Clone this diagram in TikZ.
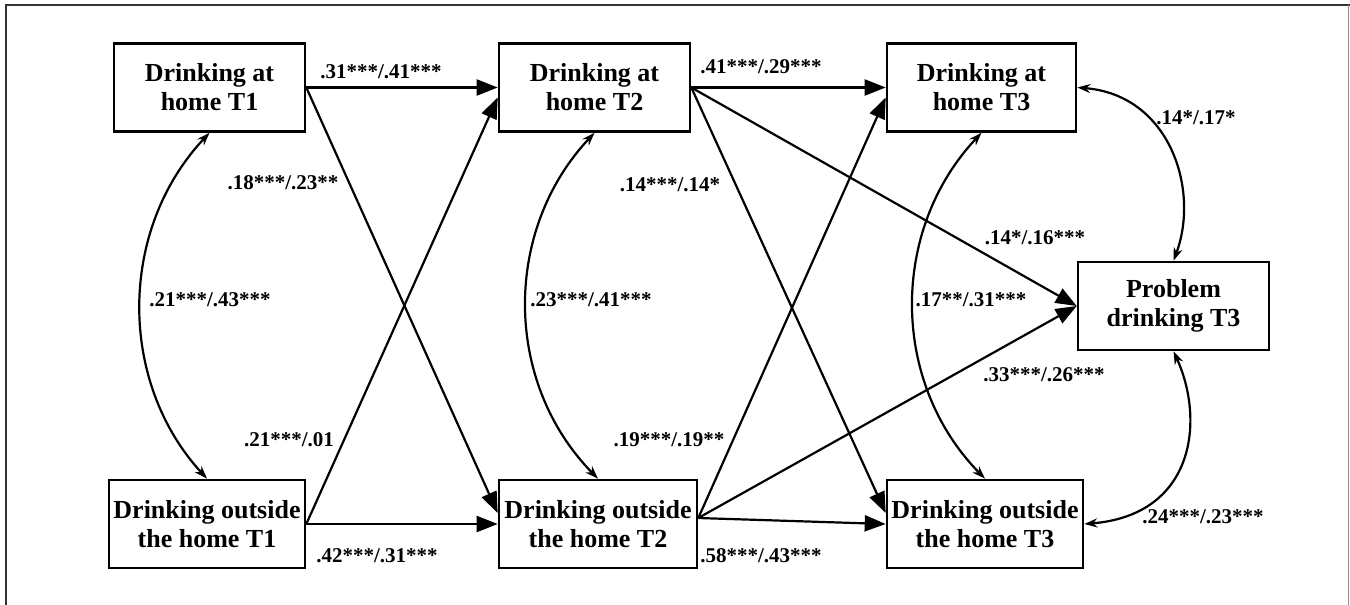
\documentclass[tikz,border=0pt]{standalone}
\usepackage{fontspec}
\setmainfont{Liberation Serif}
\usetikzlibrary{arrows.meta}
\begin{document}
\begin{tikzpicture}[x=1pt,y=-1pt,
  box/.style={draw, line width=2.6pt, minimum height=88pt, inner sep=1pt, align=center, font=\bfseries\fontsize{26}{29}\selectfont},
  lab/.style={font=\bfseries\fontsize{21}{24}\selectfont, inner sep=0pt},
  pth/.style={line width=2.2pt, -{Triangle[length=21pt,width=16pt]}},
  cov/.style={line width=2.2pt, {Stealth[length=13pt,width=9pt]}-{Stealth[length=13pt,width=9pt]}}]
\useasboundingbox (0,0) rectangle (1350,605);
\draw[line width=2pt, black!80] (6,606) -- (6,5) -- (1350,5);
\draw[line width=1pt, black!45] (1348.5,5) -- (1348.5,606);

\node[box, minimum width=191pt] (H1) at (209.5,87.5) {Drinking at\\home T1};
\node[box, minimum width=191pt] (H2) at (594.5,87.5) {Drinking at\\home T2};
\node[box, minimum width=189pt] (H3) at (981.5,87.5) {Drinking at\\home T3};
\node[box, minimum width=196pt] (O1) at (207,524) {Drinking outside\\the home T1};
\node[box, minimum width=198pt] (O2) at (598,524) {Drinking outside\\the home T2};
\node[box, minimum width=196pt] (O3) at (985,524) {Drinking outside\\the home T3};
\node[box, minimum width=191pt] (PD) at (1173.5,306) {Problem\\drinking T3};

% paths T1 -> T2
\draw[pth] (H1.east) -- (H2.west);
\draw[pth] (H1.east) -- ([yshift=11pt]O2.west);
\draw[pth] (O1.east) -- ([yshift=-10pt]H2.west);
\draw[pth] (O1.east) -- (O2.west);
% paths T2 -> T3
\draw[pth] (H2.east) -- (H3.west);
\draw[pth] (H2.east) -- ([yshift=11pt]O3.west);
\draw[pth] (H2.east) -- (PD.west);
\draw[pth] ([yshift=6pt]O2.east) -- ([yshift=-10pt]H3.west);
\draw[pth] ([yshift=6pt]O2.east) -- (O3.west);
\draw[pth] ([yshift=6pt]O2.east) -- (PD.west);

% covariances
\draw[cov] (H1.south) .. controls (118,230) and (118,382) .. (O1.north);
\draw[cov] (H2.south) .. controls (503,230) and (503,382) .. (O2.north);
\draw[cov] (H3.south) .. controls (890,230) and (890,382) .. (O3.north);
\draw[cov] (H3.east) .. controls (1170,95) and (1200,190) .. (PD.north);
\draw[cov] (PD.south) .. controls (1205,420) and (1195,515) .. (O3.east);

% labels
\node[lab] (l1) at (381,72) {.31***/.41***};
\node[lab] (l2) at (283,183) {.18***/.23**};
\node[lab] (l3) at (210,300) {.21***/.43***};
\node[lab] (l4) at (289,440) {.21***/.01};
\node[lab] (l5) at (377,556) {.42***/.31***};
\node[lab] (l6) at (761,67) {.41***/.29***};
\node[lab] (l7) at (670,185) {.14***/.14*};
\node[lab] (l8) at (591,300) {.23***/.41***};
\node[lab] (l9) at (669,440) {.19***/.19**};
\node[lab] (l10) at (761,556) {.58***/.43***};
\node[lab] (l11) at (1035,238) {.14*/.16***};
\node[lab] (l12) at (971,300) {.17**/.31***};
\node[lab] (l13) at (1044,375) {.33***/.26***};
\node[lab] (l14) at (1196,118) {.14*/.17*};
\node[lab] (l15) at (1203,517) {.24***/.23***};
\end{tikzpicture}
\end{document}
